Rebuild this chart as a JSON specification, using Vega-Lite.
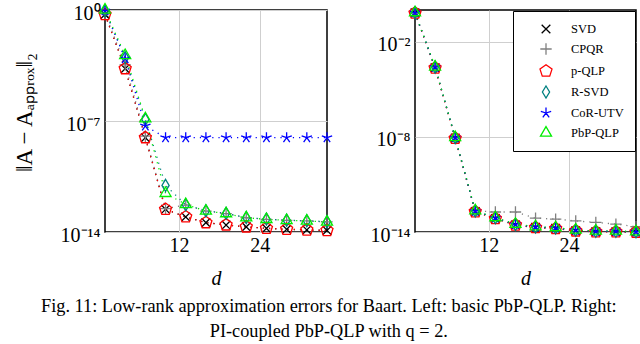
{
  "$schema": "https://vega.github.io/schema/vega-lite/v6.json",
  "padding": {"left": 12, "top": 0, "right": 0, "bottom": 0},
  "datasets": {
    "left": [
      {"m": "SVD", "d": 1, "e": 0.52}, {"m": "SVD", "d": 4, "e": 2.0e-4}, {"m": "SVD", "d": 7, "e": 8.9e-9}, {"m": "SVD", "d": 10, "e": 2.7e-13}, {"m": "SVD", "d": 13, "e": 8.9e-14}, {"m": "SVD", "d": 16, "e": 3.9e-14}, {"m": "SVD", "d": 19, "e": 2.75e-14}, {"m": "SVD", "d": 22, "e": 2.1e-14}, {"m": "SVD", "d": 25, "e": 1.7e-14}, {"m": "SVD", "d": 28, "e": 1.48e-14}, {"m": "SVD", "d": 31, "e": 1.35e-14}, {"m": "SVD", "d": 34, "e": 1.26e-14},
      {"m": "CPQR", "d": 1, "e": 0.6}, {"m": "CPQR", "d": 4, "e": 3.5e-4}, {"m": "CPQR", "d": 7, "e": 1.1e-8}, {"m": "CPQR", "d": 10, "e": 3.0e-13}, {"m": "CPQR", "d": 13, "e": 5.0e-13}, {"m": "CPQR", "d": 16, "e": 2.1e-13}, {"m": "CPQR", "d": 19, "e": 1.45e-13}, {"m": "CPQR", "d": 22, "e": 7.9e-14}, {"m": "CPQR", "d": 25, "e": 6.3e-14}, {"m": "CPQR", "d": 28, "e": 5.4e-14}, {"m": "CPQR", "d": 31, "e": 5.0e-14}, {"m": "CPQR", "d": 34, "e": 4.3e-14},
      {"m": "p-QLP", "d": 1, "e": 0.52}, {"m": "p-QLP", "d": 4, "e": 2.0e-4}, {"m": "p-QLP", "d": 7, "e": 8.9e-9}, {"m": "p-QLP", "d": 10, "e": 2.7e-13}, {"m": "p-QLP", "d": 13, "e": 9.0e-14}, {"m": "p-QLP", "d": 16, "e": 3.9e-14}, {"m": "p-QLP", "d": 19, "e": 2.8e-14}, {"m": "p-QLP", "d": 22, "e": 2.1e-14}, {"m": "p-QLP", "d": 25, "e": 1.7e-14}, {"m": "p-QLP", "d": 28, "e": 1.5e-14}, {"m": "p-QLP", "d": 31, "e": 1.35e-14}, {"m": "p-QLP", "d": 34, "e": 1.25e-14},
      {"m": "R-SVD", "d": 1, "e": 0.89}, {"m": "R-SVD", "d": 4, "e": 1.0e-3}, {"m": "R-SVD", "d": 7, "e": 1.26e-7}, {"m": "R-SVD", "d": 10, "e": 8.7e-12}, {"m": "R-SVD", "d": 13, "e": 5.2e-13}, {"m": "R-SVD", "d": 16, "e": 2.2e-13}, {"m": "R-SVD", "d": 19, "e": 1.5e-13}, {"m": "R-SVD", "d": 22, "e": 8.2e-14}, {"m": "R-SVD", "d": 25, "e": 6.5e-14}, {"m": "R-SVD", "d": 28, "e": 5.6e-14}, {"m": "R-SVD", "d": 31, "e": 5.1e-14}, {"m": "R-SVD", "d": 34, "e": 4.5e-14},
      {"m": "CoR-UTV", "d": 1, "e": 0.89}, {"m": "CoR-UTV", "d": 4, "e": 8.5e-4}, {"m": "CoR-UTV", "d": 7, "e": 4.9e-8}, {"m": "CoR-UTV", "d": 10, "e": 8.9e-9}, {"m": "CoR-UTV", "d": 13, "e": 8.9e-9}, {"m": "CoR-UTV", "d": 16, "e": 8.9e-9}, {"m": "CoR-UTV", "d": 19, "e": 8.9e-9}, {"m": "CoR-UTV", "d": 22, "e": 8.9e-9}, {"m": "CoR-UTV", "d": 25, "e": 8.9e-9}, {"m": "CoR-UTV", "d": 28, "e": 8.9e-9}, {"m": "CoR-UTV", "d": 31, "e": 8.9e-9}, {"m": "CoR-UTV", "d": 34, "e": 8.9e-9},
      {"m": "PbP-QLP", "d": 1, "e": 1.0}, {"m": "PbP-QLP", "d": 4, "e": 1.38e-3}, {"m": "PbP-QLP", "d": 7, "e": 1.41e-7}, {"m": "PbP-QLP", "d": 10, "e": 2.75e-12}, {"m": "PbP-QLP", "d": 13, "e": 5.5e-13}, {"m": "PbP-QLP", "d": 16, "e": 2.1e-13}, {"m": "PbP-QLP", "d": 19, "e": 1.45e-13}, {"m": "PbP-QLP", "d": 22, "e": 7.9e-14}, {"m": "PbP-QLP", "d": 25, "e": 6.3e-14}, {"m": "PbP-QLP", "d": 28, "e": 5.4e-14}, {"m": "PbP-QLP", "d": 31, "e": 5.0e-14}, {"m": "PbP-QLP", "d": 34, "e": 4.3e-14}
    ],
    "right": [
      {"m": "SVD", "d": 1, "e": 0.66}, {"m": "SVD", "d": 4, "e": 2.3e-4}, {"m": "SVD", "d": 7, "e": 8.3e-9}, {"m": "SVD", "d": 10, "e": 1.95e-13}, {"m": "SVD", "d": 13, "e": 7.2e-14}, {"m": "SVD", "d": 16, "e": 2.8e-14}, {"m": "SVD", "d": 19, "e": 1.95e-14}, {"m": "SVD", "d": 22, "e": 1.7e-14}, {"m": "SVD", "d": 25, "e": 1.2e-14}, {"m": "SVD", "d": 28, "e": 1.05e-14}, {"m": "SVD", "d": 31, "e": 1.05e-14}, {"m": "SVD", "d": 34, "e": 1.0e-14},
      {"m": "CPQR", "d": 1, "e": 0.69}, {"m": "CPQR", "d": 4, "e": 2.57e-4}, {"m": "CPQR", "d": 7, "e": 9.1e-9}, {"m": "CPQR", "d": 10, "e": 2.19e-13}, {"m": "CPQR", "d": 13, "e": 1.82e-13}, {"m": "CPQR", "d": 16, "e": 1.82e-13}, {"m": "CPQR", "d": 19, "e": 7.4e-14}, {"m": "CPQR", "d": 22, "e": 6.5e-14}, {"m": "CPQR", "d": 25, "e": 5.0e-14}, {"m": "CPQR", "d": 28, "e": 4.0e-14}, {"m": "CPQR", "d": 31, "e": 3.16e-14}, {"m": "CPQR", "d": 34, "e": 2.19e-14},
      {"m": "p-QLP", "d": 1, "e": 0.64}, {"m": "p-QLP", "d": 4, "e": 2.2e-4}, {"m": "p-QLP", "d": 7, "e": 8.1e-9}, {"m": "p-QLP", "d": 10, "e": 1.9e-13}, {"m": "p-QLP", "d": 13, "e": 7.0e-14}, {"m": "p-QLP", "d": 16, "e": 2.75e-14}, {"m": "p-QLP", "d": 19, "e": 1.9e-14}, {"m": "p-QLP", "d": 22, "e": 1.65e-14}, {"m": "p-QLP", "d": 25, "e": 1.17e-14}, {"m": "p-QLP", "d": 28, "e": 1.02e-14}, {"m": "p-QLP", "d": 31, "e": 1.02e-14}, {"m": "p-QLP", "d": 34, "e": 9.8e-15},
      {"m": "R-SVD", "d": 1, "e": 0.68}, {"m": "R-SVD", "d": 4, "e": 2.5e-4}, {"m": "R-SVD", "d": 7, "e": 8.9e-9}, {"m": "R-SVD", "d": 10, "e": 2.1e-13}, {"m": "R-SVD", "d": 13, "e": 7.8e-14}, {"m": "R-SVD", "d": 16, "e": 3.0e-14}, {"m": "R-SVD", "d": 19, "e": 2.1e-14}, {"m": "R-SVD", "d": 22, "e": 1.8e-14}, {"m": "R-SVD", "d": 25, "e": 1.3e-14}, {"m": "R-SVD", "d": 28, "e": 1.12e-14}, {"m": "R-SVD", "d": 31, "e": 1.12e-14}, {"m": "R-SVD", "d": 34, "e": 1.03e-14},
      {"m": "CoR-UTV", "d": 1, "e": 0.67}, {"m": "CoR-UTV", "d": 4, "e": 2.45e-4}, {"m": "CoR-UTV", "d": 7, "e": 8.8e-9}, {"m": "CoR-UTV", "d": 10, "e": 2.05e-13}, {"m": "CoR-UTV", "d": 13, "e": 7.6e-14}, {"m": "CoR-UTV", "d": 16, "e": 2.95e-14}, {"m": "CoR-UTV", "d": 19, "e": 2.05e-14}, {"m": "CoR-UTV", "d": 22, "e": 1.78e-14}, {"m": "CoR-UTV", "d": 25, "e": 1.28e-14}, {"m": "CoR-UTV", "d": 28, "e": 1.1e-14}, {"m": "CoR-UTV", "d": 31, "e": 1.1e-14}, {"m": "CoR-UTV", "d": 34, "e": 1.02e-14},
      {"m": "PbP-QLP", "d": 1, "e": 0.69}, {"m": "PbP-QLP", "d": 4, "e": 2.57e-4}, {"m": "PbP-QLP", "d": 7, "e": 9.1e-9}, {"m": "PbP-QLP", "d": 10, "e": 2.19e-13}, {"m": "PbP-QLP", "d": 13, "e": 8.1e-14}, {"m": "PbP-QLP", "d": 16, "e": 3.16e-14}, {"m": "PbP-QLP", "d": 19, "e": 2.19e-14}, {"m": "PbP-QLP", "d": 22, "e": 1.9e-14}, {"m": "PbP-QLP", "d": 25, "e": 1.35e-14}, {"m": "PbP-QLP", "d": 28, "e": 1.17e-14}, {"m": "PbP-QLP", "d": 31, "e": 1.17e-14}, {"m": "PbP-QLP", "d": 34, "e": 1.05e-14}
    ]
  },
  "title": {
    "text": ["Fig. 11: Low-rank approximation errors for Baart. Left: basic PbP-QLP. Right:", "PI-coupled PbP-QLP with q = 2."],
    "orient": "bottom", "anchor": "middle", "font": "Liberation Serif", "fontSize": 18.3, "fontWeight": "normal", "color": "black", "lineHeight": 25, "offset": 9
  },
  "spacing": 88,
  "bounds": "flush",
  "resolve": {"scale": {"x": "independent", "y": "independent", "color": "independent", "shape": "independent"}, "legend": {"color": "independent", "shape": "independent"}},
  "hconcat": [
    {
      "width": 222, "height": 222,
      "data": {"name": "left"},
      "encoding": {
        "x": {"field": "d", "type": "quantitative", "scale": {"domain": [1, 34], "nice": false, "zero": false}, "axis": {"values": [12, 24], "title": "d", "titleFontStyle": "italic", "labelPadding": 3, "titlePadding": 13}},
        "y": {"field": "e", "type": "quantitative", "scale": {"type": "log", "domain": [1e-14, 1], "nice": false}, "axis": {"values": [1e-14, 1e-7, 1], "labelExpr": "datum.value > 0.5 ? '10⁰' : datum.value > 1e-10 ? '10⁻⁷' : '10⁻¹⁴'", "labelOffset": 3, "title": "‖A − Aₐₚₚᵣₒₓ‖₂", "titleFontSize": 23, "titleY": 102, "titlePadding": 24, "labelPadding": 5}},
        "color": {"field": "m", "type": "nominal", "scale": {"domain": ["SVD", "CPQR", "p-QLP", "R-SVD", "CoR-UTV", "PbP-QLP"], "range": ["#000000", "#808080", "#ff0000", "#008080", "#0000ff", "#00ee00"]}, "legend": null}
      },
      "layer": [
        {"mark": {"type": "line", "strokeDash": [1.2, 5], "strokeWidth": 1.3}},
        {"mark": {"type": "point", "filled": false, "size": 144, "strokeWidth": 1.3, "opacity": 1},
         "encoding": {"shape": {"field": "m", "type": "nominal", "legend": null, "scale": {"domain": ["SVD", "CPQR", "p-QLP", "R-SVD", "CoR-UTV", "PbP-QLP"], "range": ["M-0.72,-0.72L0.72,0.72M-0.72,0.72L0.72,-0.72", "M-0.95,0L0.95,0M0,-0.95L0,0.95", "M0,-1.05L1,-0.32L0.62,0.85L-0.62,0.85L-1,-0.32Z", "M0,-1L0.6,0L0,1L-0.6,0Z", "M0,0L0,-0.9M0,0L0.86,-0.28M0,0L0.53,0.73M0,0L-0.53,0.73M0,0L-0.86,-0.28", "M0,-1.06L0.92,0.53L-0.92,0.53Z"]}}}}
      ]
    },
    {
      "width": 221, "height": 222,
      "data": {"name": "right"},
      "encoding": {
        "x": {"field": "d", "type": "quantitative", "scale": {"domain": [1, 34], "nice": false, "zero": false}, "axis": {"values": [12, 24], "title": "d", "titleFontStyle": "italic", "labelPadding": 3, "titlePadding": 13}},
        "y": {"field": "e", "type": "quantitative", "scale": {"type": "log", "domain": [1e-14, 1], "nice": false}, "axis": {"values": [1e-14, 1e-8, 1e-2], "labelExpr": "datum.value > 1e-4 ? '10⁻²' : datum.value > 1e-11 ? '10⁻⁸' : '10⁻¹⁴'", "labelOffset": 3, "title": null, "labelPadding": 5}},
        "color": {"field": "m", "type": "nominal", "scale": {"domain": ["SVD", "CPQR", "p-QLP", "R-SVD", "CoR-UTV", "PbP-QLP"], "range": ["#000000", "#808080", "#ff0000", "#008080", "#0000ff", "#00ee00"]},
          "legend": {"title": null, "orient": "top-right", "offset": 1, "padding": 11, "fillColor": "white", "strokeColor": "black", "symbolSize": 144, "symbolOffset": 15, "labelOffset": 18, "rowPadding": 4, "labelFont": "Liberation Serif", "labelFontSize": 12.5, "labelColor": "black", "symbolStrokeWidth": 1.3}}
      },
      "layer": [
        {"mark": {"type": "line", "strokeDash": [1.2, 5], "strokeWidth": 1.3}},
        {"mark": {"type": "point", "filled": false, "size": 144, "strokeWidth": 1.3, "opacity": 1},
         "encoding": {
           "shape": {"field": "m", "type": "nominal", "scale": {"domain": ["SVD", "CPQR", "p-QLP", "R-SVD", "CoR-UTV", "PbP-QLP"], "range": ["M-0.72,-0.72L0.72,0.72M-0.72,0.72L0.72,-0.72", "M-0.95,0L0.95,0M0,-0.95L0,0.95", "M0,-1.05L1,-0.32L0.62,0.85L-0.62,0.85L-1,-0.32Z", "M0,-1L0.6,0L0,1L-0.6,0Z", "M0,0L0,-0.9M0,0L0.86,-0.28M0,0L0.53,0.73M0,0L-0.53,0.73M0,0L-0.86,-0.28", "M0,-1.06L0.92,0.53L-0.92,0.53Z"]},
             "legend": {"title": null, "orient": "top-right", "offset": 1, "padding": 11, "fillColor": "white", "strokeColor": "black", "symbolSize": 144, "symbolOffset": 15, "labelOffset": 18, "rowPadding": 4, "labelFont": "Liberation Serif", "labelFontSize": 12.5, "labelColor": "black", "symbolStrokeWidth": 1.3}}
         }}
      ]
    }
  ],
  "config": {
    "view": {"stroke": "black", "strokeWidth": 1.5},
    "font": "Liberation Serif",
    "axis": {"grid": true, "gridColor": "#cfcfcf", "gridWidth": 1, "domain": false, "ticks": false, "labelFont": "Liberation Serif", "labelFontSize": 20, "labelColor": "black", "titleFont": "Liberation Serif", "titleFontSize": 20, "titleFontWeight": "normal", "titleColor": "black"}
  }
}
